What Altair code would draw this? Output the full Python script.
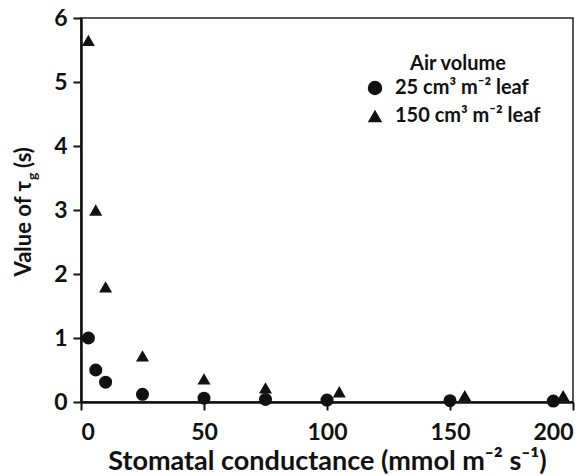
import altair as alt
import pandas as pd

FONT = "Lato"
INK = "#111111"

# data
series_names = ["25 cm³ m⁻² leaf", "150 cm³ m⁻² leaf"]
x_small = [3, 6, 10, 25, 50, 75, 100, 150, 192]
y_small = [1.0, 0.5, 0.31, 0.12, 0.06, 0.04, 0.03, 0.02, 0.015]
x_large = [3, 6, 10, 25, 50, 75, 105, 156, 196]
y_large = [5.65, 3.0, 1.8, 0.72, 0.36, 0.22, 0.16, 0.1, 0.1]

x_ticks = [0, 50, 100, 150, 200]
y_ticks = [0, 1, 2, 3, 4, 5, 6]

df = pd.DataFrame(
    {
        "g": x_small + x_large,
        "tau": y_small + y_large,
        "series": [series_names[0]] * len(x_small) + [series_names[1]] * len(x_large),
        "order": [0] * len(x_small) + [1] * len(x_large),
    }
)

points = (
    alt.Chart(df)
    .mark_point(filled=True, opacity=1, color=INK, size=170)
    .encode(
        x=alt.X(
            "g:Q",
            scale=alt.Scale(domain=[0, 200], nice=False),
            axis=alt.Axis(values=x_ticks, title="Stomatal conductance (mmol m⁻² s⁻¹)",
                          titlePadding=4, labelPadding=11),
        ),
        y=alt.Y(
            "tau:Q",
            scale=alt.Scale(domain=[0, 6], nice=False),
            axis=alt.Axis(values=y_ticks, title=None, labelPadding=6),
        ),
        shape=alt.Shape(
            "series:N",
            scale=alt.Scale(domain=series_names, range=["circle", "triangle-up"]),
            legend=alt.Legend(
                title=None,
                orient="none",
                legendX=284,
                legendY=60,
                symbolSize=210,
                symbolFillColor=INK,
                symbolStrokeColor=INK,
                labelFontSize=20,
                labelFont=FONT,
                labelFontWeight="bold",
                labelColor=INK,
                rowPadding=7,
                labelOffset=10,
                padding=0,
            ),
        ),
        order=alt.Order("order:Q"),
    )
)

def label(text, size, x, y, align="left", angle=None, baseline="alphabetic"):
    kw = dict(align=align, baseline=baseline, font=FONT, fontSize=size,
              fontWeight="bold", color=INK)
    if angle is not None:
        kw["angle"] = angle
    return alt.Chart(pd.DataFrame({"t": [text]})).mark_text(**kw).encode(
        text="t:N", x=alt.value(x), y=alt.value(y)
    )

# legend title
leg_title = label("Air volume", 20, 377, 52, align="center")

# y-axis title with subscript g
yt_main = label("Value of τ", 22, -50, 163, align="right", angle=270)
yt_sub = label("g", 14, -44, 162, align="left", angle=270)
yt_end = label("(s)", 22, -50, 150, align="left", angle=270)

chart = (
    alt.layer(points, leg_title, yt_main, yt_sub, yt_end)
    .properties(
        width=492,
        height=384,
        padding={"left": 81, "top": 18, "right": 11, "bottom": 74},
        autosize=alt.AutoSizeParams(type="none"),
    )
    .configure_view(stroke="#222222", strokeWidth=1.5)
    .configure_axis(
        domainColor=INK,
        domainWidth=2.5,
        tickColor=INK,
        tickWidth=2,
        tickSize=8,
        grid=False,
        labelFont=FONT,
        labelFontSize=23,
        labelFontWeight="bold",
        labelColor=INK,
        titleFont=FONT,
        titleFontSize=27,
        titleFontWeight="bold",
        titleColor=INK,
    )
)

chart.save("out.html", embed_options={"renderer": "svg", "actions": False})
